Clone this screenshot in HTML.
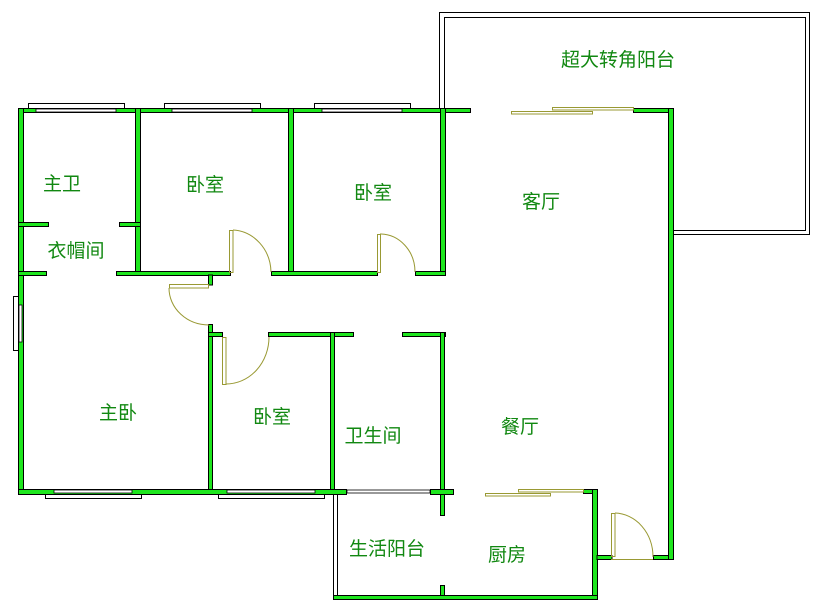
<!DOCTYPE html>
<html><head><meta charset="utf-8"><style>
html,body{margin:0;padding:0;background:#fff;}
svg{display:block}
text{font-family:"Liberation Sans","Noto Sans CJK SC","WenQuanYi Zen Hei",sans-serif;font-size:19px;fill:#118811;}
</style></head><body>
<svg width="831" height="607" viewBox="0 0 831 607" xmlns="http://www.w3.org/2000/svg">
<rect x="439.5" y="12.5" width="370" height="222" fill="none" stroke="#000" stroke-width="1"/>
<rect x="444.5" y="17.5" width="361" height="213" fill="#fff" stroke="#000" stroke-width="1"/>
<rect x="436" y="113" width="232" height="128" fill="#fff"/>
<rect x="333.5" y="494" width="4" height="104" fill="#fff" stroke="#000" stroke-width="1"/>
<g fill="#fff" stroke="#000" stroke-width="1">
<rect x="28.5" y="103.5" width="96" height="6"/>
<rect x="164.5" y="103.5" width="96" height="6"/>
<rect x="314.5" y="103.5" width="96" height="6"/>
<rect x="45.5" y="492.5" width="96" height="6"/>
<rect x="218.5" y="492.5" width="106" height="6"/>
<rect x="13.5" y="296.5" width="6" height="54"/>
</g>
<g fill="#1ee61e" stroke="#000" stroke-width="1">
<rect x="18.5" y="108.5" width="452" height="4"/>
<rect x="633.5" y="108.5" width="40" height="4"/>
<rect x="18.5" y="108.5" width="5" height="386"/>
<rect x="135.5" y="108.5" width="5" height="167"/>
<rect x="288.5" y="108.5" width="5" height="167"/>
<rect x="440.5" y="108.5" width="5" height="167"/>
<rect x="18.5" y="271.5" width="28" height="4"/>
<rect x="116.5" y="271.5" width="114" height="4"/>
<rect x="271.5" y="271.5" width="106" height="4"/>
<rect x="415.5" y="271.5" width="30" height="4"/>
<rect x="18.5" y="222.5" width="30" height="4"/>
<rect x="119.5" y="222.5" width="21" height="4"/>
<rect x="208.5" y="275" width="4" height="10"/>
<rect x="208.5" y="324.5" width="4" height="170"/>
<rect x="208.5" y="332.5" width="14" height="4"/>
<rect x="268.5" y="332.5" width="85" height="4"/>
<rect x="402.5" y="332.5" width="43" height="4"/>
<rect x="330.5" y="332.5" width="4" height="162"/>
<rect x="440.5" y="332.5" width="4" height="183"/>
<rect x="18.5" y="489.5" width="328" height="5"/>
<rect x="430.5" y="489.5" width="23" height="5"/>
<rect x="440.5" y="585.5" width="4" height="13"/>
<rect x="583.5" y="489.5" width="14" height="4"/>
<rect x="592.5" y="489.5" width="5" height="110"/>
<rect x="333.5" y="595.5" width="264" height="4"/>
<rect x="597" y="555.5" width="15" height="4"/>
<rect x="653.5" y="555.5" width="20" height="4"/>
<rect x="668.5" y="108.5" width="5" height="451"/>
</g>
<g fill="#fff" stroke="#000" stroke-width="0.8">
<rect x="36" y="109" width="80" height="3"/>
<rect x="172" y="109" width="80" height="3"/>
<rect x="322" y="109" width="80" height="3"/>
<rect x="54" y="490" width="78" height="3"/>
<rect x="227" y="490" width="88" height="3"/>
<rect x="19" y="305" width="3" height="37"/>
<rect x="347" y="490" width="83" height="3"/>
</g>
<g fill="none" stroke="#999933" stroke-width="1">
<rect x="229.5" y="230.5" width="3.5" height="42"/>
<path d="M233 230 A40 43 0 0 1 271 272"/>
<rect x="377.5" y="234.5" width="3" height="38"/>
<path d="M380 234 A35 38 0 0 1 415 272"/>
<rect x="169.5" y="284.5" width="39" height="3.5"/>
<path d="M169 288 A40 37 0 0 0 209 325"/>
<rect x="222.5" y="337.5" width="3.5" height="47"/>
<path d="M226 384 A43 47 0 0 0 269 337"/>
<rect x="611.5" y="513.5" width="3.5" height="43"/>
<path d="M615 513 A39 44 0 0 1 653 557"/>
<line x1="611" y1="559.5" x2="653" y2="559.5"/>
<rect x="511.5" y="111.5" width="81" height="2.5"/>
<rect x="552.5" y="107.5" width="81" height="2.5"/>
<rect x="485.5" y="493.5" width="65" height="2.5"/>
<rect x="518.5" y="489.5" width="65" height="2.5"/>
</g>
<text x="62" y="190" text-anchor="middle">主卫</text>
<text x="205" y="191" text-anchor="middle">卧室</text>
<text x="373" y="199" text-anchor="middle">卧室</text>
<text x="76" y="257" text-anchor="middle">衣帽间</text>
<text x="541" y="208" text-anchor="middle">客厅</text>
<text x="618" y="66" text-anchor="middle">超大转角阳台</text>
<text x="118" y="419" text-anchor="middle">主卧</text>
<text x="272" y="423" text-anchor="middle">卧室</text>
<text x="373" y="442" text-anchor="middle">卫生间</text>
<text x="520" y="433" text-anchor="middle">餐厅</text>
<text x="387" y="555" text-anchor="middle">生活阳台</text>
<text x="507" y="561" text-anchor="middle">厨房</text>
</svg>
</body></html>
